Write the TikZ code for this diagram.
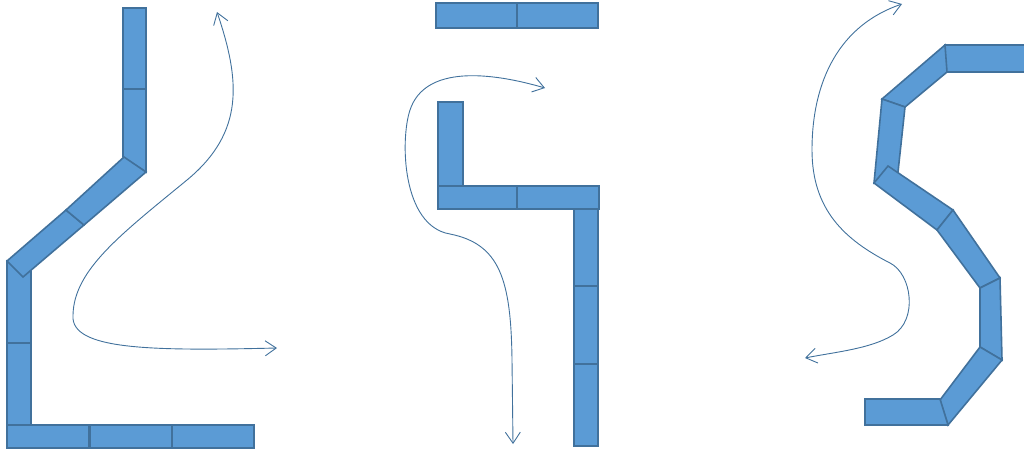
\documentclass[tikz,border=0pt]{standalone}
\usetikzlibrary{arrows.meta}
\definecolor{blockfill}{RGB}{91,155,213}
\definecolor{blockline}{RGB}{65,113,156}
\tikzset{
  blk/.style={fill=blockfill, draw=blockline, line width=1.6pt, line join=miter},
  curvy/.style={draw=blockline, line width=0.9pt, {Straight Barb[length=11pt,width=15pt]}-{Straight Barb[length=11pt,width=15pt]}}
}
\begin{document}
\begin{tikzpicture}[x=1pt,y=-1pt]
\useasboundingbox (0,0) rectangle (1024,453);
% ---------- left figure ----------
\draw[blk] (123,8) rectangle (146,89);
\draw[blk] (123,89) -- (146,89) -- (146,172) -- (123,157) -- cycle;
\draw[blk] (7,261) -- (31,271) -- (31,343) -- (7,343) -- cycle;
\draw[blk] (7,343) rectangle (31,425);
\draw[blk] (7,425) rectangle (89,448);
\draw[blk] (90,425) rectangle (172,448);
\draw[blk] (172,425) rectangle (254,448);
\draw[blk] (7,261) -- (66,210) -- (84,225) -- (23,277) -- cycle;
\draw[blk] (66,210) -- (124,157) -- (146,172) -- (84,225) -- cycle;
\coordinate (l1) at (277,348);
\coordinate (l2) at (217,12);
\draw[curvy] (l1) .. controls (150,351) and (70,350) .. (73,315)
  .. controls (74,270) and (120,235) .. (187,180)
  .. controls (245,132) and (240,80) .. (l2);
% ---------- middle figure ----------
\draw[blk] (436,3) rectangle (517,28);
\draw[blk] (517,3) rectangle (598,28);
\draw[blk] (438,102) rectangle (463,186);
\draw[blk] (438,186) rectangle (517,209);
\draw[blk] (517,186) rectangle (599,209);
\draw[blk] (574,209) rectangle (598,286);
\draw[blk] (574,286) rectangle (598,364);
\draw[blk] (574,364) rectangle (598,446);
\coordinate (m1) at (545,88);
\coordinate (m2) at (513,444);
\draw[curvy] (m1) .. controls (490,72) and (425,65) .. (410,110)
  .. controls (400,140) and (402,226) .. (450,234)
  .. controls (500,244) and (511,280) .. (512,360) -- (m2);
% ---------- right figure ----------
\draw[blk] (945,45) rectangle (1026,72);
\draw[blk] (882,99) -- (945,45) -- (947,72) -- (905,107) -- cycle;
\draw[blk] (882,99) -- (905,107) -- (898,172) -- (874,183) -- cycle;
\draw[blk] (888,166) -- (953,210) -- (937,230) -- (874,183) -- cycle;
\draw[blk] (937,230) -- (953,210) -- (1000,278) -- (980,288) -- cycle;
\draw[blk] (980,288) -- (1000,278) -- (1002,360) -- (980,347) -- cycle;
\draw[blk] (980,347) -- (1002,360) -- (948,425) -- (940,400) -- cycle;
\draw[blk] (865,399) -- (940,399) -- (948,425) -- (865,425) -- cycle;
\coordinate (r1) at (902,4);
\coordinate (r2) at (805,358);
\draw[curvy] (r1) .. controls (840,25) and (812,80) .. (812,150)
  .. controls (812,210) and (845,240) .. (890,263)
  .. controls (912,274) and (918,320) .. (893,335)
  .. controls (870,349) and (835,352) .. (r2);
\end{tikzpicture}
\end{document}
